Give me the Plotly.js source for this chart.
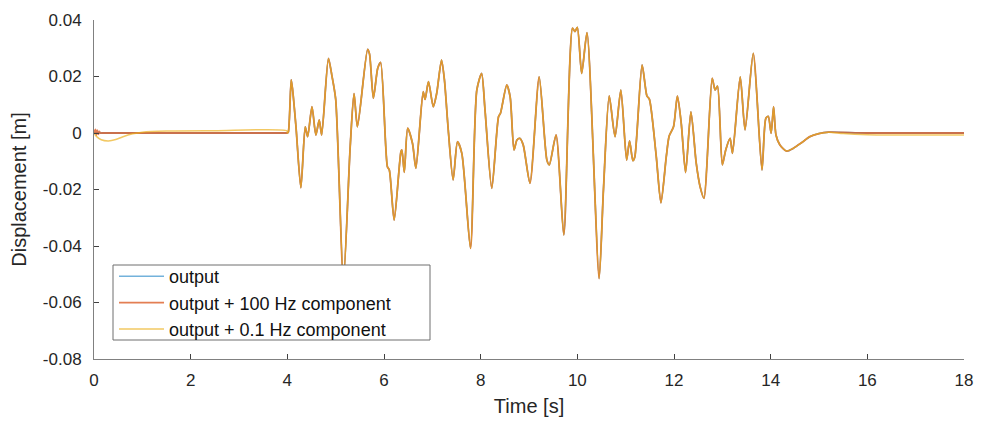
<!DOCTYPE html>
<html>
<head>
<meta charset="utf-8">
<script src="https://cdn.plot.ly/plotly-3.0.1.min.js"></script>
<style>html,body{margin:0;padding:0;background:#fff;}#chart{width:983px;height:425px;}</style>
</head>
<body>
<div id="chart"></div>
<script>
// ---- data ----
const seriesNames = ["output", "output + 100 Hz component", "output + 0.1 Hz component"];

// shared excitation part (4 s .. 15.2 s)
const mainTime = [4.00,4.02,4.08,4.11,4.18,4.28,4.37,4.42,4.51,4.59,4.66,4.71,4.85,4.92,5.00,5.16,5.30,5.38,5.45,5.66,5.70,5.78,5.87,5.93,6.07,6.11,6.21,6.35,6.37,6.42,6.49,6.59,6.66,6.81,6.85,6.92,7.02,7.09,7.19,7.25,7.33,7.43,7.52,7.61,7.79,7.92,8.02,8.09,8.23,8.37,8.41,8.54,8.61,8.69,8.75,8.81,8.88,9.02,9.21,9.37,9.42,9.56,9.72,9.90,9.95,10.00,10.09,10.20,10.45,10.54,10.66,10.78,10.90,11.02,11.08,11.15,11.19,11.34,11.44,11.49,11.63,11.73,11.84,11.90,11.99,12.07,12.15,12.24,12.35,12.46,12.54,12.62,12.79,12.85,12.90,13.00,13.07,13.16,13.21,13.37,13.47,13.64,13.82,13.90,13.95,14.01,14.06,14.11,14.19,14.33,14.47,14.65,14.81,15.00,15.20];
const mainDisp = [0.0000,0.0003,0.0188,0.0152,0.0020,-0.0194,0.0022,-0.0013,0.0093,-0.0007,0.0046,-0.0007,0.0264,0.0205,0.0120,-0.0520,-0.0050,0.0140,0.0022,0.0296,0.0280,0.0123,0.0229,0.0250,-0.0119,-0.0131,-0.0308,-0.0066,-0.0060,-0.0139,0.0017,-0.0037,-0.0125,0.0146,0.0119,0.0182,0.0093,0.0140,0.0258,0.0188,0.0010,-0.0166,-0.0031,-0.0072,-0.0408,0.0152,0.0211,0.0081,-0.0196,0.0058,0.0070,0.0170,0.0128,-0.0060,-0.0025,-0.0019,-0.0042,-0.0178,0.0199,-0.0096,-0.0113,-0.0007,-0.0361,0.0371,0.0359,0.0374,0.0211,0.0355,-0.0515,-0.0202,0.0131,-0.0013,0.0152,-0.0096,-0.0028,-0.0098,-0.0084,0.0241,0.0131,0.0120,-0.0078,-0.0247,-0.0084,-0.0011,0.0022,0.0131,0.0034,-0.0140,0.0075,-0.0107,-0.0190,-0.0231,0.0194,0.0152,0.0166,-0.0113,-0.0060,-0.0019,-0.0072,0.0199,0.0011,0.0282,-0.0131,0.0052,0.0059,-0.0001,0.0093,-0.0007,-0.0042,-0.0064,-0.0054,-0.0033,-0.0013,-0.0002,0.0003];

// quiet start (0 .. 4 s)
const headTimeOut = [0.00, 3.99];
const headDispOut = [0.0000, 0.0000];
const headTime100 = [0.00,0.03,0.05,0.07,0.09,0.11,0.13,0.16,3.99];
const headDisp100 = [0.0000,0.0013,-0.0008,0.0010,-0.0005,0.0006,0.0000,0.0000,0.0000];
const headTime01  = [0.00,0.05,0.15,0.30,0.45,0.60,0.80,1.00,1.50,2.50,3.99];
const headDisp01  = [0.0000,-0.0012,-0.0024,-0.0028,-0.0023,-0.0013,-0.0003,0.0003,0.0007,0.0008,0.0008];

// quiet end (15.5 .. 18 s)
const tailTimeOut = [15.50, 16.00, 18.00];
const tailDispOut = [0.0002, 0.0000, 0.0000];
const tailTime01  = [15.50, 16.00, 17.00, 18.00];
const tailDisp01  = [-0.0002, -0.0006, -0.0007, -0.0007];

const xTickVals = [0,2,4,6,8,10,12,14,16,18];
const xTickText = ["0","2","4","6","8","10","12","14","16","18"];
const yTickVals = [-0.08,-0.06,-0.04,-0.02,0,0.02,0.04];
const yTickText = ["-0.08","-0.06","-0.04","-0.02","0","0.02","0.04"];

const titleText = "(a) Input and the simulated output components";
const xTitle = "Time [s]";
const yTitle = "Displacement [m]";

// ---- build traces ----
const colors = ["rgba(0,114,189,0.55)", "rgba(217,83,25,0.75)", "rgba(237,177,32,0.7)"];
const widths = [1.6, 1.8, 1.5];
const tOut = headTimeOut.concat(mainTime, tailTimeOut);
const vOut = headDispOut.concat(mainDisp, tailDispOut);
const t100 = headTime100.concat(mainTime, tailTimeOut);
const v100 = headDisp100.concat(mainDisp, tailDispOut);
const t01 = headTime01.concat(mainTime, tailTime01);
const v01 = headDisp01.concat(mainDisp, tailDisp01);
const xs = [tOut, t100, t01];
const ys = [vOut, v100, v01];

const traces = seriesNames.map((n, i) => ({
  type: "scatter", mode: "lines", name: n,
  x: xs[i], y: ys[i],
  line: {color: colors[i], width: widths[i], shape: "spline", smoothing: 0.7}
}));

const font = "Liberation Sans, Arial, sans-serif";
const layout = {
  width: 983, height: 425,
  margin: {l: 94, r: 19, t: 20, b: 66},
  paper_bgcolor: "#fff", plot_bgcolor: "#fff",
  font: {family: font, color: "#262626", size: 17},
  showlegend: true,
  legend: {
    x: 0.023, y: 0.298, xanchor: "left", yanchor: "top",
    bgcolor: "rgba(255,255,255,0)", borderwidth: 0,
    font: {family: font, size: 18, color: "#111"},
    itemwidth: 45, tracegroupgap: 0
  },
  xaxis: {
    range: [0, 18], tickvals: xTickVals, ticktext: xTickText,
    showline: true, linecolor: "#808080", linewidth: 1,
    ticks: "inside", ticklen: 5, tickcolor: "#404040",
    showgrid: false, zeroline: false, ticklabelstandoff: 6,
    tickfont: {family: font, size: 17, color: "#262626"},
    title: {text: xTitle, font: {family: font, size: 20, color: "#262626"}, standoff: 9}
  },
  yaxis: {
    range: [-0.08, 0.04], tickvals: yTickVals, ticktext: yTickText,
    showline: true, linecolor: "#808080", linewidth: 1,
    ticks: "inside", ticklen: 5, tickcolor: "#404040",
    showgrid: false, zeroline: false, ticklabelstandoff: 8,
    tickfont: {family: font, size: 17, color: "#262626"},
    title: {text: yTitle, font: {family: font, size: 20, color: "#262626"}, standoff: 10}
  },
  shapes: [{
    type: "rect", xref: "paper", yref: "paper",
    x0: (113-94)/870, x1: (430-94)/870, y0: (359-340)/339, y1: (359-265)/339,
    line: {color: "#6e6e6e", width: 1}, fillcolor: "rgba(255,255,255,1)", layer: "above"
  }],
  annotations: [{
    text: titleText, xref: "paper", yref: "paper",
    x: (148-94)/870, y: 1.057, xanchor: "left", yanchor: "bottom",
    showarrow: false, font: {family: "Liberation Serif, Times New Roman, serif", size: 16, color: "#000"}
  }]
};

Plotly.newPlot("chart", traces, layout, {staticPlot: true, displayModeBar: false});
</script>
</body>
</html>
